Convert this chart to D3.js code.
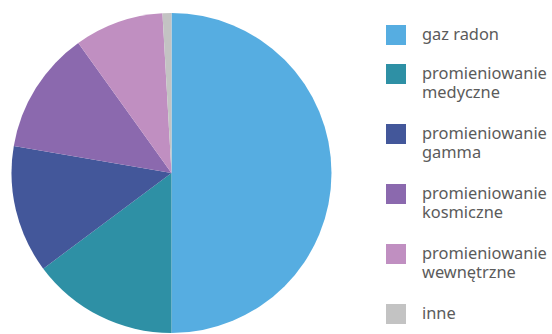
<!DOCTYPE html>
<html>
<head>
<meta charset="utf-8">
<script src="https://cdn.jsdelivr.net/npm/d3@7"></script>
<style>
  body { margin: 0; background: #fff; }
</style>
</head>
<body>
<div id="chart"></div>
<script>
var w = 552
var h = 334

var categories = [ ["gaz radon"],
                   ["promieniowanie", "medyczne"],
                   ["promieniowanie", "gamma"],
                   ["promieniowanie", "kosmiczne"],
                   ["promieniowanie", "wewnętrzne"],
                   ["inne"] ];

var values = [ 50, 14.8, 12.9, 12.4, 9.0, 0.9 ];

//             radon      medyczne   gamma      kosmiczne  wewnetrzne inne
var colors = [ "#56ade1", "#2e90a5", "#43579a", "#8b69ae", "#c08fc1", "#c3c3c3" ];

var radius = 160;

var svg = d3.select("#chart").append("svg")
    .attr("width", w)
    .attr("height", h);

var myPie = d3.pie()
    .sort(null)
    .value(function(d) { return d; });

var myArc = d3.arc()
    .outerRadius(radius)
    .innerRadius(0);

var pieG = svg.append("g")
    .attr("transform", "translate(171.5,173)");

pieG.selectAll("path").data(myPie(values)).enter()
  .append("path")
    .attr("fill", function(d, i) { return colors[i]; })
    .attr("d", myArc);

// legend rows: one-line labels are shorter than two-line ones
var lineH = 19;
var tops = [];
var y = 25;
categories.forEach(function(c) {
  tops.push(y);
  y += c.length == 1 ? 39 : 60;
});

var leg = svg.selectAll("g.legend").data(categories).enter()
  .append("g")
    .attr("class", "legend")
    .attr("transform", function(d, i) { return "translate(386," + tops[i] + ")"; });

leg.append("rect")
    .attr("width", 20)
    .attr("height", 20)
    .style("fill", function(d, i) { return colors[i]; });

var texts = leg.append("g")
    .attr("transform", "translate(36,0)")
  .append("text")
    .attr("y", 15)
    .style("font-family", "'Noto Sans', sans-serif")
    .style("font-size", "17px")
    .style("fill", "#5b5b5b");

texts.selectAll("tspan").data(function(d) { return d; }).enter()
  .append("tspan")
    .attr("x", 0)
    .attr("dy", function(d, i) { return i == 0 ? 0 : lineH; })
    .text(function(d) { return d; });

// the original uses a condensed face; squeeze the text horizontally
var widest = d3.max(texts.nodes(), function(n) { return n.getBBox().width; });
var k = 125 / widest;
texts.attr("transform", "scale(" + k + ",1)");
</script>
</body>
</html>
